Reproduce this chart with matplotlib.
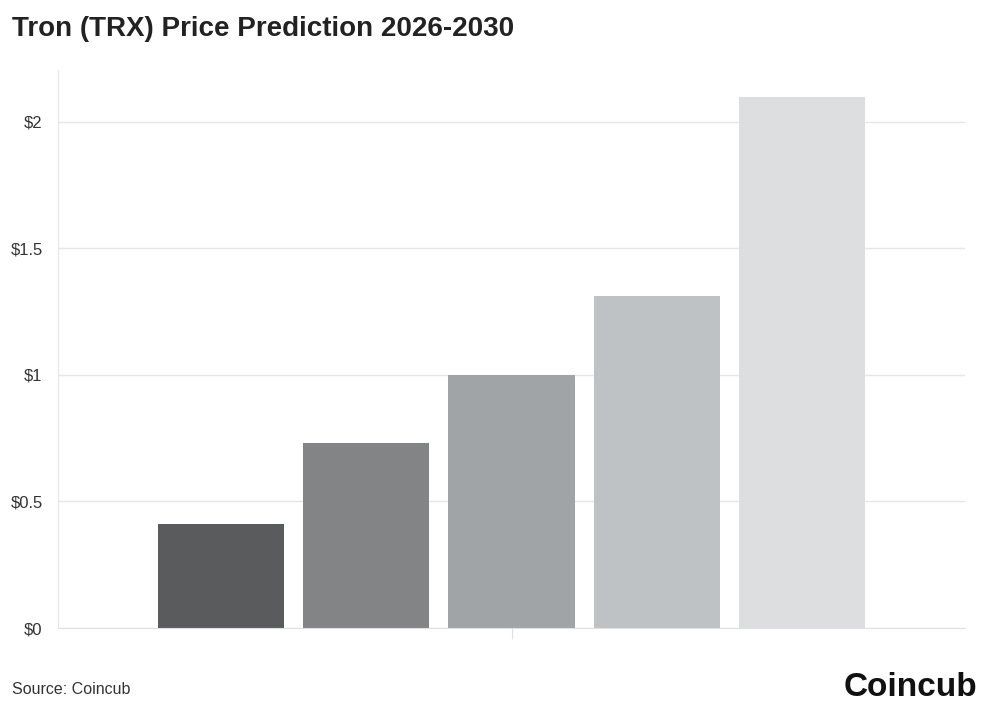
import matplotlib
matplotlib.use('Agg')
import matplotlib.pyplot as plt
import numpy as np

years = ['2026', '2027', '2028', '2029', '2030']
prices = [0.41, 0.73, 1.00, 1.31, 2.10]
colors = ['#5a5b5d', '#838486', '#a1a4a7', '#bfc2c5', '#dddee0']
yticks = [0, 0.5, 1, 1.5, 2]
ylabels = ['$0', '$0.5', '$1', '$1.5', '$2']

plt.rcParams['font.family'] = ['Liberation Sans', 'DejaVu Sans']
fig = plt.figure(figsize=(9.88, 7.16), dpi=100)
ax = fig.add_axes([58 / 988, 1 - 628 / 716, (965 - 58) / 988, (628 - 70) / 716])

x = np.arange(len(years))
ax.bar(x, prices, width=0.87, color=colors, zorder=2)
ax.set_xlim(-1.12, 5.12)
ax.set_ylim(0, 2.205)
ax.set_yticks(yticks)
ax.set_yticklabels(ylabels, fontsize=12, color='#333333')
ax.set_xticks([2])
ax.set_xticklabels([''])
ax.tick_params(axis='x', length=8, color='#e0e0e0')
ax.tick_params(axis='y', length=0, pad=11)
ax.grid(axis='y', color='#e6e6e6', linewidth=1, zorder=0)
for s in ['top', 'right']:
    ax.spines[s].set_visible(False)
ax.spines['left'].set_color('#e6e6e6')
ax.spines['bottom'].set_color('#e0e0e0')

fig.text(12 / 988, 1 - 29 / 716, 'Tron (TRX) Price Prediction 2026-2030', fontsize=20,
         fontweight='bold', color='#222222', va='center')
fig.text(12 / 988, 1 - 689 / 716, 'Source: Coincub', fontsize=11.5, color='#333333', va='center')
fig.text(977 / 988, 1 - 688 / 716, 'Coincub', fontsize=24, fontweight='bold', color='#111111',
         va='center', ha='right')

fig.savefig('out.png', dpi=100)
